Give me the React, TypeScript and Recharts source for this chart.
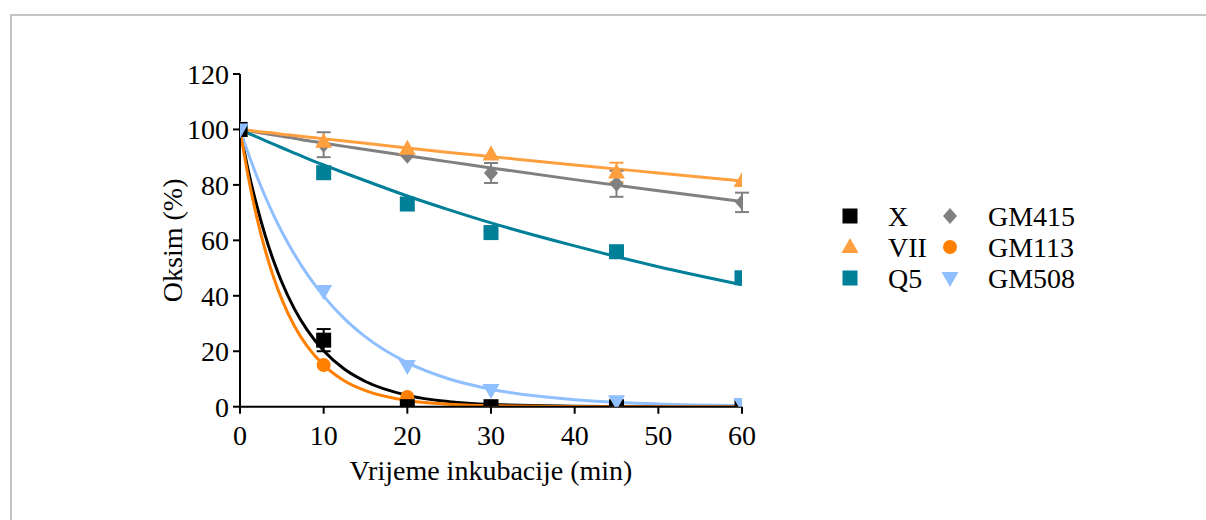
import { ComposedChart, Line, Scatter, XAxis, YAxis, ErrorBar, Label } from "recharts";

const times = [0, 10, 20, 30, 45, 60];
const xMean = [100, 24, 0, 0, 0, 0];
const xErr = [0, 4, 0, 0, 0, 0];
const viiMean = [100, 95.6, 93, 91, 84.5, 81.4];
const viiErr = [0, 0, 0, 0, 3.5, 0];
const q5Mean = [100, 84.4, 73.1, 62.8, 55.9, 46.5];
const gm415Mean = [100, 94.5, 90.5, 84.3, 80.4, 73.7];
const gm415Err = [0, 4.5, 0, 3.6, 4.7, 3.5];
const gm113Mean = [100, 15, 3.5, 0, 0, 0];
const gm508Mean = [100, 41.7, 14.7, 6, 2, 1];

// fitted curves
const fitTimes = [0, 1, 2, 3, 4, 5, 6.5, 8, 10, 12.5, 15, 20, 25, 30, 40, 50, 60];
const xFit = [100, 85, 72.6, 61.9, 52.7, 44.9, 35.3, 27.8, 20.2, 13.5, 9.1, 4.1, 1.8, 0.8, 0.2, 0, 0];
const viiFit = [100, 99.7, 99.3, 99, 98.7, 98.3, 97.8, 97.3, 96.6, 95.8, 95, 93.3, 91.7, 90.2, 87.2, 84.3, 81.4];
const q5Fit = [100, 98.6, 97.3, 96, 94.7, 93.4, 91.5, 89.6, 87.2, 84.3, 81.5, 76, 71, 66.3, 58, 50.5, 44];
const gm415Fit = [100, 99.5, 99, 98.5, 98, 97.5, 96.8, 96, 95.1, 93.9, 92.8, 90.5, 88.3, 86.1, 81.9, 77.9, 74];
const gm113Fit = [100, 82.7, 68.4, 56.6, 46.8, 38.7, 29.1, 21.9, 15, 9.3, 5.8, 2.2, 0.9, 0.3, 0.05, 0, 0];
const gm508Fit = [100, 91.2, 83.2, 75.9, 69.2, 63.1, 55, 47.9, 39.9, 31.7, 25.2, 15.9, 10, 6.3, 2.5, 1, 0.4];

const xTicks = [0, 10, 20, 30, 40, 50, 60];
const yTicks = [0, 20, 40, 60, 80, 100, 120];

const C_X = "#000000";
const C_VII = "#ffa040";
const C_Q5 = "#007f99";
const C_GM415 = "#808080";
const C_GM113 = "#ff8000";
const C_GM508 = "#8fbfff";

const FONT = '"Liberation Serif", "Times New Roman", serif';
const FS = 28;

const pts = (ys: number[], errs?: number[]) =>
  times.map((t, i) => ({ x: t, y: ys[i], err: errs ? errs[i] : 0 }));
const fit = (ys: number[]) => fitTimes.map((t, i) => ({ x: t, y: ys[i] }));

type Kind = "square" | "up" | "down" | "diamond" | "circle";

function Marker({ kind, cx, cy, color }: { kind: Kind; cx: number; cy: number; color: string }) {
  if (kind === "square") return <rect x={cx - 7.5} y={cy - 7.5} width={15} height={15} fill={color} />;
  if (kind === "circle") return <circle cx={cx} cy={cy} r={7} fill={color} />;
  if (kind === "diamond")
    return <polygon points={`${cx},${cy - 8} ${cx + 7},${cy} ${cx},${cy + 8} ${cx - 7},${cy}`} fill={color} />;
  if (kind === "up")
    return <polygon points={`${cx},${cy - 9} ${cx + 8.5},${cy + 6} ${cx - 8.5},${cy + 6}`} fill={color} />;
  return <polygon points={`${cx - 8.5},${cy - 6} ${cx + 8.5},${cy - 6} ${cx},${cy + 9}`} fill={color} />;
}

const shape = (kind: Kind, color: string) => (p: any) => (
  <Marker kind={kind} cx={p.cx} cy={p.cy} color={color} />
);

const legendRows: [Kind, string, string, Kind, string, string][] = [
  ["square", C_X, "X", "diamond", C_GM415, "GM415"],
  ["up", C_VII, "VII", "circle", C_GM113, "GM113"],
  ["square", C_Q5, "Q5", "down", C_GM508, "GM508"],
];

export default function App() {
  const tick = { fontSize: FS, fill: "#000", fontFamily: FONT };
  return (
    <div style={{ position: "absolute", left: 0, top: 0, width: 1206, height: 520, background: "#fff" }}>
      <div
        style={{
          position: "absolute",
          left: 10,
          top: 14,
          width: 1200,
          height: 510,
          borderLeft: "2px solid #c4c4c4",
          borderTop: "2px solid #c4c4c4",
        }}
      />
      <div style={{ position: "absolute", left: 0, top: 0 }}>
        <ComposedChart width={1206} height={520} margin={{ top: 74, right: 464, bottom: 33.3, left: 104 }}>
          <XAxis
            type="number"
            dataKey="x"
            domain={[0, 60]}
            ticks={xTicks}
            height={80}
            stroke="#000"
            strokeWidth={2}
            tickSize={7}
            tickMargin={11}
            tick={tick}
            allowDataOverflow
          >
            <Label
              value="Vrijeme inkubacije (min)"
              position="insideBottom"
              offset={7}
              style={{ fontSize: FS, fill: "#000", fontFamily: FONT }}
            />
          </XAxis>
          <YAxis
            type="number"
            dataKey="y"
            domain={[0, 120]}
            ticks={yTicks}
            width={136}
            stroke="#000"
            strokeWidth={2}
            tickSize={7}
            tickMargin={4}
            tick={tick}
            allowDataOverflow
          >
            <Label
              value="Oksim (%)"
              angle={-90}
              position="center"
              style={{ fontSize: FS, fill: "#000", fontFamily: FONT, textAnchor: "middle" }}
            />
          </YAxis>

          <Line data={fit(xFit)} dataKey="y" type="monotone" stroke={C_X} strokeWidth={3} dot={false} isAnimationActive={false} />
          <Line data={fit(gm415Fit)} dataKey="y" type="monotone" stroke={C_GM415} strokeWidth={3} dot={false} isAnimationActive={false} />
          <Line data={fit(viiFit)} dataKey="y" type="monotone" stroke={C_VII} strokeWidth={3} dot={false} isAnimationActive={false} />
          <Line data={fit(q5Fit)} dataKey="y" type="monotone" stroke={C_Q5} strokeWidth={3} dot={false} isAnimationActive={false} />
          <Line data={fit(gm508Fit)} dataKey="y" type="monotone" stroke={C_GM508} strokeWidth={3} dot={false} isAnimationActive={false} />
          <Line data={fit(gm113Fit)} dataKey="y" type="monotone" stroke={C_GM113} strokeWidth={3} dot={false} isAnimationActive={false} />

          <Scatter data={pts(q5Mean)} shape={shape("square", C_Q5)} isAnimationActive={false} />
          <Scatter data={pts(gm415Mean, gm415Err)} shape={shape("diamond", C_GM415)} isAnimationActive={false}>
            <ErrorBar dataKey="err" direction="y" width={7} stroke={C_GM415} strokeWidth={2} />
          </Scatter>
          <Scatter data={pts(viiMean, viiErr)} shape={shape("up", C_VII)} isAnimationActive={false}>
            <ErrorBar dataKey="err" direction="y" width={7} stroke={C_VII} strokeWidth={2} />
          </Scatter>
          <Scatter data={pts(gm113Mean)} shape={shape("circle", C_GM113)} isAnimationActive={false} />
          <Scatter data={pts(xMean, xErr)} shape={shape("square", C_X)} isAnimationActive={false}>
            <ErrorBar dataKey="err" direction="y" width={7} stroke={C_X} strokeWidth={2} />
          </Scatter>
          <Scatter data={pts(gm508Mean)} shape={shape("down", C_GM508)} isAnimationActive={false} />
        </ComposedChart>
      </div>
      <svg style={{ position: "absolute", left: 830, top: 195 }} width={280} height={100}>
        {legendRows.map((r, i) => {
          const cy = 21 + i * 31;
          return (
            <g key={i}>
              <Marker kind={r[0]} cx={20} cy={cy} color={r[1]} />
              <text x={58} y={cy + 10} fontSize={FS} fontFamily={FONT} fill="#000">
                {r[2]}
              </text>
              <Marker kind={r[3]} cx={120} cy={cy} color={r[4]} />
              <text x={158} y={cy + 10} fontSize={FS} fontFamily={FONT} fill="#000">
                {r[5]}
              </text>
            </g>
          );
        })}
      </svg>
    </div>
  );
}
